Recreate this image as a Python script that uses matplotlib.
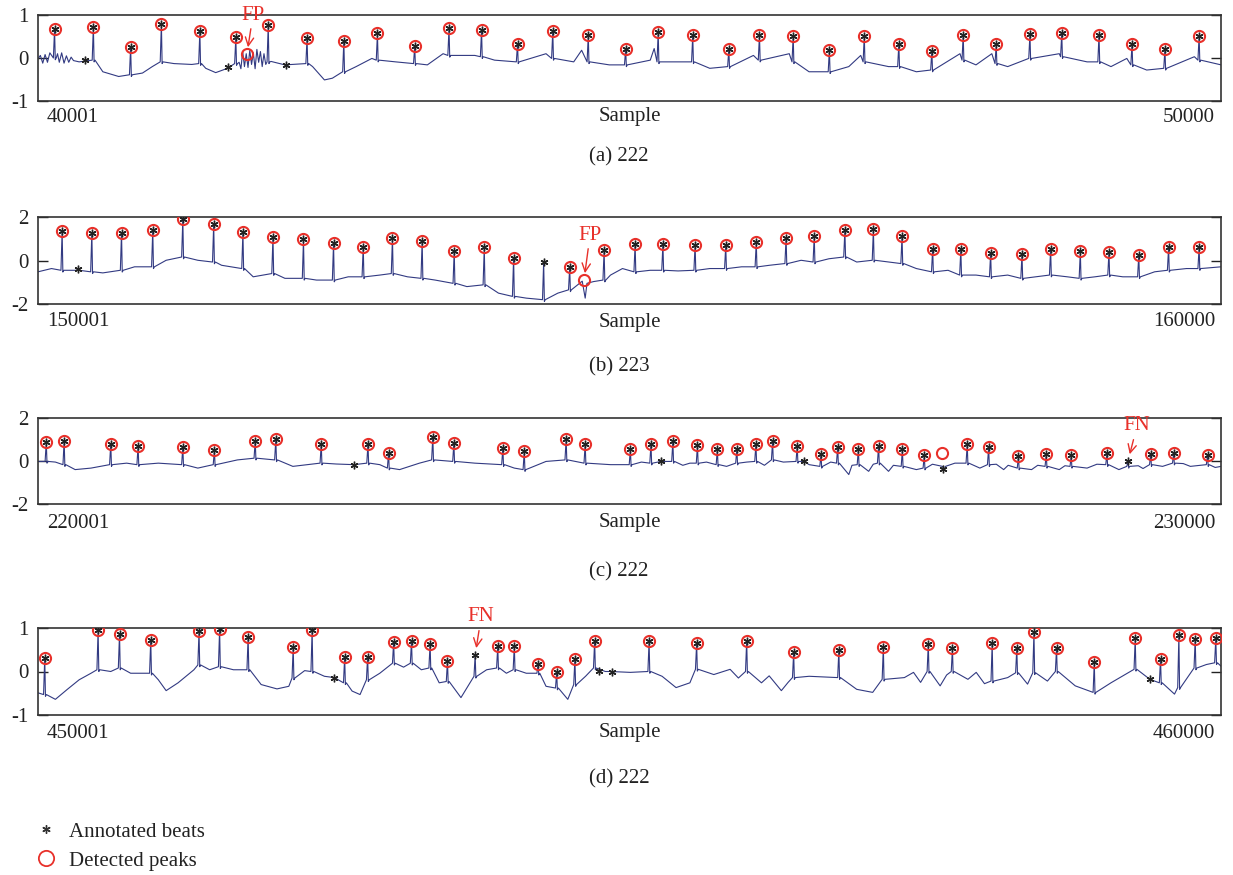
import numpy as np
import matplotlib
matplotlib.use('Agg')
import matplotlib.pyplot as plt
from matplotlib.lines import Line2D

plt.rcParams['font.family'] = ['Liberation Serif', 'DejaVu Serif']

# ---- panel (a): record 222, samples 40001..50000 (x = offset from start) ----
a_start, a_end, a_title = 40001, 50000, '(a) 222'
a_peak_x = [140, 468, 783, 1043, 1368, 1672, 1946, 2274, 2585, 2869, 3184, 3474, 3749, 4053, 4351, 4651,
            4967, 5242, 5534, 5839, 6098, 6383, 6689, 6984, 7276, 7555, 7820, 8099, 8384, 8653, 8968, 9247, 9525, 9814]
a_peak_y = [0.67, 0.73, 0.26, 0.80, 0.62, 0.48, 0.76, 0.46, 0.40, 0.57, 0.27, 0.69, 0.64, 0.33, 0.63, 0.53,
            0.21, 0.60, 0.53, 0.21, 0.54, 0.51, 0.19, 0.52, 0.33, 0.17, 0.54, 0.32, 0.55, 0.57, 0.54, 0.33, 0.20, 0.51]
a_foot_y = [0.0, -0.05, -0.39, -0.09, -0.13, -0.13, -0.09, -0.13, -0.32, -0.05, -0.13, 0.06, 0.03, -0.09, -0.01, -0.09,
            -0.16, -0.09, -0.09, -0.20, -0.05, -0.09, -0.32, -0.09, -0.20, -0.28, -0.05, -0.13, -0.01, 0.03, -0.09, -0.16, -0.24, -0.05]
a_base_x = [0, 20, 40, 60, 80, 100, 120, 165, 180, 200, 220, 240, 260, 280, 300, 348, 548, 682, 883, 966,
            1150, 1300, 1418, 1502, 1602, 1700, 1715, 1730, 1745, 1760, 1775, 1790, 1805, 1820, 1835, 1850, 1865,
            1880, 1895, 1910, 1925, 1970, 2087, 2321, 2421, 2488, 2689, 2822, 3023, 3291, 3424, 3692, 3859, 4294,
            4528, 4595, 4829, 5175, 5208, 5678, 6047, 6350, 6517, 6853, 6954, 7189, 7256, 7424, 7793, 7928, 8062,
            8196, 8364, 8632, 8867, 9069, 9203, 9371, 9774, 10000]
a_base_y = [-0.02, 0.06, -0.12, 0.08, -0.10, 0.12, -0.08, 0.10, -0.10, 0.12, -0.12, 0.05, -0.10, 0.02, -0.06, -0.09,
            -0.32, -0.43, -0.35, -0.20, -0.13, -0.15, -0.24, -0.34, -0.24, -0.10, -0.25, 0.15, -0.20, 0.10, -0.22,
            0.18, -0.15, 0.12, -0.25, 0.20, -0.10, 0.15, -0.20, 0.10, -0.15, -0.08, -0.16, -0.20, -0.51, -0.47,
            -0.20, -0.01, -0.09, -0.16, 0.10, 0.06, -0.05, 0.10, -0.09, 0.18, -0.16, -0.05, 0.22, -0.24, 0.06, 0.10,
            -0.32, -0.20, 0.06, -0.20, -0.05, -0.32, 0.10, -0.16, 0.10, -0.20, 0.03, 0.10, -0.09, -0.20, -0.01,
            -0.28, 0.03, -0.16]
a_no_det = []
a_fp_x, a_fp_y = [1766], [0.09]
a_ann_x, a_ann_y = [398, 1602, 2093], [-0.05, -0.20, -0.16]
a_note = ('FP', 1766, 0.09)

# ---- panel (b): record 223, samples 150001..160000 ----
b_start, b_end, b_title = 150001, 160000, '(b) 223'
b_peak_x = [204, 455, 706, 970, 1224, 1485, 1732, 1986, 2244, 2498, 2749, 2996, 3247, 3518, 3772, 4020, 4274,
            4494, 4785, 5047, 5282, 5554, 5813, 6071, 6323, 6561, 6820, 7061, 7303, 7562, 7800, 8052, 8317, 8559,
            8810, 9052, 9304, 9556, 9814]
b_peak_y = [1.37, 1.28, 1.28, 1.41, 1.91, 1.67, 1.31, 1.09, 0.97, 0.79, 0.64, 1.05, 0.91, 0.45, 0.61, 0.13, -0.07,
            -0.32, 0.46, 0.76, 0.76, 0.73, 0.69, 0.85, 1.05, 1.12, 1.40, 1.43, 1.12, 0.55, 0.52, 0.34, 0.28, 0.52,
            0.42, 0.38, 0.26, 0.60, 0.61]
b_foot_y = [-0.45, -0.52, -0.45, -0.29, 0.16, -0.07, -0.37, -0.60, -0.82, -0.90, -0.75, -0.60, -0.82, -1.05, -1.12,
            -1.65, -1.80, -1.35, -0.90, -0.52, -0.45, -0.45, -0.37, -0.29, -0.14, -0.07, 0.16, 0.01, -0.14, -0.52,
            -0.67, -0.75, -0.82, -0.67, -0.82, -0.67, -0.75, -0.45, -0.37]
b_base_x = [0, 114, 348, 548, 816, 1083, 1351, 1552, 1819, 2087, 2354, 2622, 2889, 3123, 3357, 3625, 3892, 4127,
            4394, 4600, 4625, 4640, 4695, 4839, 4940, 5175, 5410, 5678, 5947, 6182, 6450, 6685, 6920, 7189, 7424,
            7692, 7928, 8196, 8431, 8700, 8934, 9169, 9438, 9707, 10000]
b_base_y = [-0.52, -0.37, -0.45, -0.57, -0.29, 0.01, 0.01, -0.22, -0.75, -0.82, -0.90, -0.75, -0.67, -0.75, -0.90,
            -1.20, -1.50, -1.73, -1.50, -0.95, -1.73, -1.05, -0.97, -0.67, -0.37, -0.45, -0.48, -0.37, -0.29, -0.22,
            0.01, 0.08, -0.07, -0.07, -0.37, -0.45, -0.67, -0.67, -0.75, -0.75, -0.75, -0.75, -0.52, -0.37, -0.29]
b_no_det = [4274]
b_fp_x, b_fp_y = [4615], [-0.90]
b_ann_x, b_ann_y = [341], [-0.40]
b_note = ('FP', 4615, -0.90)

# ---- panel (c): record 222, samples 220001..230000 ----
c_start, c_end, c_title = 220001, 230000, '(c) 222'
c_peak_x = [70, 221, 615, 846, 1224, 1491, 1836, 2010, 2394, 2789, 2963, 3337, 3515, 3929, 4110, 4464, 4625,
            5007, 5181, 5366, 5574, 5742, 5907, 6068, 6209, 6417, 6618, 6759, 6934, 7105, 7306, 7491, 7854, 8035,
            8287, 8522, 8733, 9035, 9213, 9405, 9599, 9885]
c_peak_y = [0.89, 0.95, 0.81, 0.71, 0.66, 0.51, 0.95, 1.01, 0.81, 0.81, 0.39, 1.13, 0.84, 0.62, 0.45, 1.01, 0.81,
            0.54, 0.80, 0.92, 0.74, 0.56, 0.57, 0.80, 0.92, 0.71, 0.31, 0.66, 0.57, 0.72, 0.54, 0.28, 0.78, 0.64,
            0.24, 0.34, 0.27, 0.36, 0.0, 0.34, 0.36, 0.28]
c_foot_y = [-0.02, -0.17, -0.17, -0.17, -0.17, -0.17, 0.13, 0.05, -0.10, -0.10, -0.33, 0.05, -0.02, -0.17, -0.40,
            0.05, -0.10, -0.17, -0.10, -0.02, -0.10, -0.17, -0.10, -0.02, 0.05, -0.02, -0.25, -0.10, -0.17, -0.10,
            -0.25, -0.33, -0.10, -0.17, -0.33, -0.25, -0.25, -0.17, -0.25, -0.17, -0.10, -0.17]
c_base_x = [0, 147, 314, 448, 749, 1017, 1351, 1685, 2154, 2521, 2672, 2889, 3056, 3224, 3692, 4026, 4294, 4762,
            4839, 5100, 5265, 5450, 5510, 5650, 5820, 5990, 6140, 6300, 6474, 6518, 6700, 6853, 6880, 7021, 7060,
            7189, 7230, 7424, 7560, 7645, 7655, 7670, 7750, 7961, 8100, 8162, 8200, 8398, 8450, 8632, 8680, 8867,
            8950, 9136, 9300, 9340, 9505, 9680, 9740, 9950, 10000]
c_base_y = [-0.02, -0.05, -0.40, -0.33, -0.10, -0.10, -0.33, 0.05, -0.25, -0.14, -0.17, -0.17, -0.40, -0.10, -0.10,
            -0.33, -0.02, -0.14, -0.17, -0.05, -0.02, -0.20, -0.10, -0.05, -0.25, -0.05, -0.20, -0.05, -0.02, -0.17,
            -0.05, -0.63, -0.20, -0.48, -0.15, -0.48, -0.20, -0.40, -0.15, -0.25, -0.45, -0.25, -0.10, -0.33, -0.15,
            -0.40, -0.20, -0.40, -0.20, -0.40, -0.22, -0.33, -0.15, -0.40, -0.22, -0.35, -0.25, -0.12, -0.25, -0.30,
            -0.25]
c_no_det = [9213]
c_fp_x, c_fp_y = [7645], [0.36]
c_ann_x, c_ann_y = [2672, 5265, 6474, 7652], [-0.17, -0.02, -0.02, -0.36]
c_note = ('FN', 9213, 0.0)

# ---- panel (d): record 222, samples 450001..460000 ----
d_start, d_end, d_title = 450001, 460000, '(d) 222'
d_peak_x = [57, 508, 689, 953, 1361, 1535, 1776, 2157, 2317, 2592, 2786, 3006, 3157, 3314, 3461, 3695, 3886,
            4026, 4227, 4384, 4538, 4705, 5165, 5567, 5990, 6387, 6769, 7145, 7525, 7729, 8065, 8273, 8418, 8609,
            8928, 9274, 9488, 9643, 9781, 9955]
d_peak_y = [0.32, 0.95, 0.86, 0.73, 0.92, 0.97, 0.80, 0.56, 0.95, 0.34, 0.34, 0.68, 0.70, 0.63, 0.25, 0.38, 0.58,
            0.59, 0.17, -0.02, 0.29, 0.71, 0.69, 0.65, 0.71, 0.44, 0.49, 0.56, 0.64, 0.54, 0.65, 0.54, 0.90, 0.53,
            0.21, 0.76, 0.29, 0.83, 0.75, 0.76]
d_foot_y = [-0.53, 0.04, 0.08, -0.04, 0.15, 0.11, 0.04, -0.15, 0.0, -0.26, -0.19, 0.19, 0.19, 0.08, -0.23, -0.11,
            0.08, 0.04, -0.04, -0.38, -0.30, 0.08, 0.0, 0.05, 0.0, -0.14, -0.14, -0.18, 0.0, 0.0, -0.22, -0.03,
            -0.03, 0.0, -0.48, 0.05, -0.26, -0.37, 0.08, 0.20]
d_base_x = [0, 147, 248, 348, 448, 615, 783, 1017, 1083, 1184, 1318, 1451, 1652, 1886, 2020, 2120, 2254, 2421,
            2505, 2655, 2722, 2889, 3090, 3240, 3391, 3575, 3792, 3959, 4127, 4294, 4478, 4628, 4795, 4839, 5007,
            5275, 5393, 5510, 5712, 5850, 5920, 6115, 6180, 6283, 6340, 6518, 6920, 7055, 7323, 7400, 7460, 7625,
            7680, 7860, 7930, 8000, 8196, 8364, 8532, 8767, 9069, 9398, 9606, 9875, 10000]
d_base_y = [-0.49, -0.64, -0.41, -0.19, -0.04, 0.0, -0.04, -0.19, -0.44, -0.26, 0.04, 0.04, 0.04, -0.30, -0.40,
            -0.34, 0.02, -0.11, -0.14, -0.45, -0.53, -0.04, 0.10, 0.04, -0.26, -0.60, 0.04, -0.04, -0.04, -0.34,
            -0.64, -0.11, 0.0, 0.0, -0.02, -0.11, -0.37, -0.26, -0.07, 0.05, -0.15, -0.26, -0.10, -0.44, -0.25,
            -0.11, -0.41, -0.48, -0.14, -0.02, -0.25, -0.33, -0.08, -0.18, -0.02, -0.28, -0.14, -0.29, -0.22,
            -0.33, -0.26, -0.18, -0.52, 0.16, 0.12]
d_no_det = [3695]
d_fp_x, d_fp_y = [], []
d_ann_x, d_ann_y = [2505, 4745, 4855, 9398], [-0.14, 0.02, -0.02, -0.18]
d_note = ('FN', 3695, 0.38)

panels = [
    (a_start, a_end, a_title, a_peak_x, a_peak_y, a_foot_y, a_base_x, a_base_y, a_no_det, a_fp_x, a_fp_y, a_ann_x, a_ann_y, a_note),
    (b_start, b_end, b_title, b_peak_x, b_peak_y, b_foot_y, b_base_x, b_base_y, b_no_det, b_fp_x, b_fp_y, b_ann_x, b_ann_y, b_note),
    (c_start, c_end, c_title, c_peak_x, c_peak_y, c_foot_y, c_base_x, c_base_y, c_no_det, c_fp_x, c_fp_y, c_ann_x, c_ann_y, c_note),
    (d_start, d_end, d_title, d_peak_x, d_peak_y, d_foot_y, d_base_x, d_base_y, d_no_det, d_fp_x, d_fp_y, d_ann_x, d_ann_y, d_note),
]

# layout in pixels of the 1233x875 canvas: axes top, axes bottom, label row, caption row, y-limit, note offset
W, H = 1233, 875
geom = [(15, 101, 117, 157, 1, (6, 39)),
        (217, 304, 322, 367, 2, (6, 45)),
        (418, 504, 523, 572, 2, (9, 35)),
        (628, 715, 733, 779, 1, (6, 38))]

RED = '#e8302a'
TRACE = '#323a82'
FS = 15


def build_trace(base_x, base_y, peak_x, peak_y, foot_y, dip):
    bx = np.asarray(base_x, float)
    by = np.asarray(base_y, float)
    px = np.asarray(peak_x, float)
    assert len(bx) == len(by) and len(px) == len(peak_y) == len(foot_y)
    keep = np.min(np.abs(bx[:, None] - px[None, :]), axis=1) > 20
    xs, ys = [bx[keep]], [by[keep]]
    for x, p, f in zip(peak_x, peak_y, foot_y):
        xs.append([x - 10, x, x + 6, x + 14])
        ys.append([f, p, f - dip, f])
    xs = np.concatenate(xs)
    ys = np.concatenate(ys)
    order = np.argsort(xs, kind='stable')
    return xs[order], ys[order]


fig = plt.figure(figsize=(W / 100, H / 100), dpi=100)
left, right = 38, 1221

for (start, end, title, pk_x, pk_y, ft_y, bs_x, bs_y, no_det, fp_x, fp_y, ann_x, ann_y, note), \
        (top, bot, lab_y, cap_y, lim, note_off) in zip(panels, geom):
    ax = fig.add_axes([left / W, 1 - bot / H, (right - left) / W, (bot - top) / H])
    tx, ty = build_trace(bs_x, bs_y, pk_x, pk_y, ft_y, 0.04 * lim)
    ax.plot(start + tx, ty, color=TRACE, lw=0.8, zorder=2)

    # detected peaks (red circles)
    det_x = [x for x in pk_x if x not in no_det] + list(fp_x)
    det_y = [y for x, y in zip(pk_x, pk_y) if x not in no_det] + list(fp_y)
    ax.plot(start + np.array(det_x), det_y, ls='none', marker='o', ms=8, mfc='none',
            mec=RED, mew=1.5, zorder=3)
    # annotated beats (asterisks)
    an_x = list(pk_x) + list(ann_x)
    an_y = list(pk_y) + list(ann_y)
    ax.plot(start + np.array(an_x), an_y, ls='none', marker=(6, 2, 0), ms=5.5,
            color='#222222', mew=1.0, zorder=4)

    label, nx, ny = note
    ax.annotate(label, xy=(start + nx, ny), xytext=note_off, textcoords='offset pixels',
                ha='center', va='center', color=RED, fontsize=FS,
                arrowprops=dict(arrowstyle='->', color=RED, lw=1.0, shrinkA=1, shrinkB=5))

    ax.set_xlim(start, end)
    ax.set_ylim(-lim, lim)
    ax.set_yticks([-lim, 0, lim])
    ax.set_yticklabels([str(-lim), '0', str(lim)])
    ax.set_xticks([])
    ax.tick_params(axis='y', direction='in', length=7, width=1.0, right=True, labelsize=FS,
                   pad=7, colors='#222222')
    for sp in ax.spines.values():
        sp.set_color('#333333')
        sp.set_linewidth(1.2)

    fig.text((left + 9) / W, 1 - lab_y / H, str(start), ha='left', va='center', fontsize=FS, color='#222222')
    fig.text(630 / W, 1 - lab_y / H, 'Sample', ha='center', va='center', fontsize=FS, color='#222222')
    fig.text(1215 / W, 1 - lab_y / H, str(end), ha='right', va='center', fontsize=FS, color='#222222')
    fig.text(619 / W, 1 - cap_y / H, title, ha='center', va='center', fontsize=FS, color='#222222')

handles = [Line2D([], [], ls='none', marker=(6, 2, 0), ms=6, color='#333333', mew=1.0),
           Line2D([], [], ls='none', marker='o', ms=11, mfc='none', mec=RED, mew=1.3)]
fig.legend(handles, ['Annotated beats', 'Detected peaks'], loc='upper left',
           bbox_to_anchor=(36 / W, 1 - 822 / H), frameon=False, handlelength=1.0,
           handletextpad=0.6, labelspacing=0.45, borderpad=0, borderaxespad=0,
           fontsize=FS, labelcolor='#222222')

fig.savefig('out.png', dpi=100)
